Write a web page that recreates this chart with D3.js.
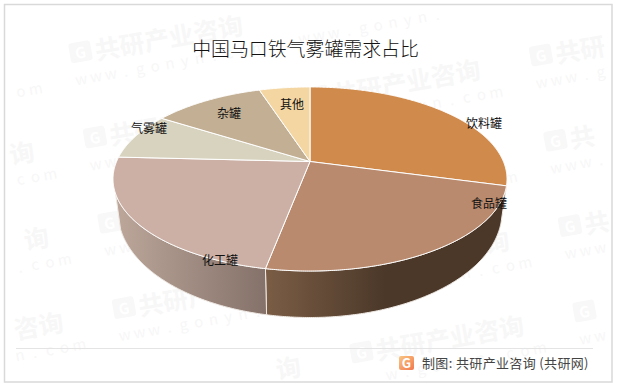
<!DOCTYPE html>
<html><head><meta charset="utf-8">
<script src="https://cdn.jsdelivr.net/npm/d3@7/dist/d3.min.js"></script>
<style>html,body{margin:0;padding:0;background:#fff}svg{display:block}
text{font-family:"Noto Sans CJK SC","Noto Sans",sans-serif}</style>
</head><body><svg id="c" width="617" height="388"></svg>
<script>
// data (shares in %)
const categories = ["饮料罐","食品罐","化工罐","气雾罐","杂罐","其他"];
const shares = [29.2,23.8,22.8,8.2,11,5];
const titleText = "中国马口铁气雾罐需求占比";
const footerText = "制图: 共研产业咨询 (共研网)";
const watermarkName = "共研产业咨询";
const watermarkUrl = "www.gonyn.com";
// styles and layout, separate from the data
const topColors = ["#d08a4c","#b98a6e","#ccb0a5","#d7d3bf","#c3b094","#f4d6a3"];
const labelX = [484,489,220,149,229,292];
const labelY = [122,202,259,127,112,103];
const wallStops = {
  "食品罐":[[0,"#7b5d45"],[0.5,"#4b3829"],[1,"#4b3829"]],
  "化工罐":[[0,"#bda79b"],[1,"#847169"]]
};

const W=617,H=388, svg=d3.select("#c");
const defs=svg.append("defs");

// watermark: glyphs are placed one by one, those outside the frame are skipped
const wm=svg.append("g");
const rot=-10*Math.PI/180, cr=Math.cos(rot), sr=Math.sin(rot);
const inFrame=(x,y,m)=>x>5+m&&x<611-m&&y>5+m&&y<381-m;
for(let i=-2;i<=3;i++)for(let j=-2;j<=5;j++){
  const gx=95+223*i+14.5*j, gy=137-41*i+85.3*j;
  const place=(dx,dy)=>[gx+dx*cr-dy*sr, gy+dx*sr+dy*cr];
  const glyph=(ch,dx,dy,size,weight,fill,m)=>{
    const [x,y]=place(dx,dy);
    if(!inFrame(x,y,m))return;
    wm.append("text").attr("transform",`translate(${x},${y}) rotate(-10)`)
      .attr("text-anchor","middle").attr("dominant-baseline","central")
      .attr("font-size",size).attr("font-weight",weight).attr("fill",fill).text(ch);
  };
  const [rx,ry]=place(0,0);
  if(inFrame(rx,ry,14)){
    const t=wm.append("g").attr("transform",`translate(${rx},${ry}) rotate(-10)`);
    t.append("rect").attr("x",-11).attr("y",-10).attr("width",22).attr("height",20).attr("rx",3).attr("fill","#f8f8f8");
    t.append("text").attr("text-anchor","middle").attr("dominant-baseline","central").attr("font-size",15).attr("font-weight",700).attr("fill","#fff").text("G");
  }
  Array.from(watermarkName).forEach((ch,n)=>glyph(ch,27+25*n,0,25,700,"#f7f7f7",13));
  Array.from(watermarkUrl).forEach((ch,n)=>glyph(ch,-4+15*n,26,15,400,"#f7f7f7",8));
}

// frame
svg.append("rect").attr("x",4.5).attr("y",4.5).attr("width",607.5).attr("height",377.5)
  .attr("fill","none").attr("stroke","#d9d9d9").attr("stroke-width",1.5);

// perspective disc geometry
const cx=310, cy=161.5, k=0.19, A=193.4, B=88.7;   // top face, apex at (cx,cy)
const topE={cy:179,rx:197,ry:92}, botE={cy:212,rx:192,ry:105.5};
const project=th=>{const u=Math.sin(th),v=Math.cos(th),w=1+k*v;return [cx+A*u/w,cy-B*v/w];};
const phiOf=th=>{const [x,y]=project(th);let p=Math.atan2((y-topE.cy)/topE.ry,(x-cx)/topE.rx);if(p<-Math.PI/2)p+=2*Math.PI;return p;};
const phiMin=0.08, phiMax=Math.PI-0.16;
const ell=(e,p)=>[cx+e.rx*Math.cos(p),e.cy+e.ry*Math.sin(p)];

const pie=d3.pie().sort(null).value(d=>d.v).startAngle(0).endAngle(2*Math.PI);
const arcs=pie(categories.map((c,i)=>({c,v:shares[i],col:topColors[i]})));
const line=d3.line();

// walls
const gWalls=svg.append("g");
arcs.forEach((a,i)=>{
  const n=Math.max(2,Math.ceil((a.endAngle-a.startAngle)*180/Math.PI*2));
  const ps=d3.range(n+1).map(s=>phiOf(a.startAngle+(a.endAngle-a.startAngle)*s/n)).filter(p=>p>=phiMin&&p<=phiMax);
  if(ps.length<2||!wallStops[a.data.c])return;
  const pts=ps.map(p=>ell(topE,p)).concat(ps.slice().reverse().map(p=>ell(botE,p)));
  const xs=d3.extent(pts,d=>d[0]);
  const id="w"+i;
  const g=defs.append("linearGradient").attr("id",id).attr("gradientUnits","userSpaceOnUse")
    .attr("x1",xs[0]).attr("x2",xs[1]).attr("y1",0).attr("y2",0);
  wallStops[a.data.c].forEach(s=>g.append("stop").attr("offset",s[0]).attr("stop-color",s[1]));
  gWalls.append("path").attr("d",line(pts)+"Z").attr("fill",`url(#${id})`)
    .attr("stroke","#efe9e4").attr("stroke-width",1);
});

// top face
const gTop=svg.append("g");
arcs.forEach(a=>{
  const n=Math.ceil((a.endAngle-a.startAngle)*180/Math.PI*2);
  const pts=[[cx,cy]].concat(d3.range(n+1).map(s=>project(a.startAngle+(a.endAngle-a.startAngle)*s/n)));
  gTop.append("path").attr("d",line(pts)+"Z").attr("fill",a.data.col)
    .attr("stroke","#fff").attr("stroke-width",1).attr("stroke-linejoin","round");
});

// labels
categories.forEach((c,i)=>svg.append("text").attr("x",labelX[i]).attr("y",labelY[i])
  .attr("text-anchor","middle").attr("dominant-baseline","central").attr("font-size",12).attr("fill","#111").text(c));

// title
svg.append("text").attr("x",305.5).attr("y",47).attr("text-anchor","middle").attr("dominant-baseline","central")
  .attr("font-size",18.9).attr("font-weight",300).attr("fill","#111").text(titleText);

// footer
svg.append("line").attr("x1",16).attr("x2",593).attr("y1",348.5).attr("y2",348.5).attr("stroke","#e4e4e4");
const ig=defs.append("linearGradient").attr("id","icon").attr("x1",0).attr("x2",1).attr("y1",0).attr("y2",1);
ig.append("stop").attr("offset",0).attr("stop-color","#f9c782");
ig.append("stop").attr("offset",1).attr("stop-color","#f2774f");
svg.append("rect").attr("x",399).attr("y",356).attr("width",15).attr("height",14).attr("rx",2).attr("fill","url(#icon)");
svg.append("text").attr("x",406.5).attr("y",367.5).attr("text-anchor","middle").attr("font-size",13).attr("font-weight",700).attr("fill","#fff").text("G");
svg.append("text").attr("x",422).attr("y",362).attr("dominant-baseline","central").attr("font-size",13).attr("letter-spacing",0.35).attr("fill","#444").text(footerText);
</script></body></html>
